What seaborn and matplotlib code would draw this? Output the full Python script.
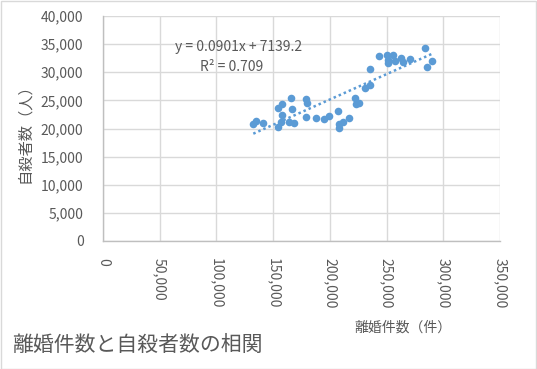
import matplotlib
matplotlib.use("Agg")
import matplotlib.pyplot as plt
from matplotlib.patches import Rectangle
import seaborn as sns
import pandas as pd
import numpy as np

# Data
divorces = [132500, 134900, 141400, 154000, 158000, 158000, 154600, 156700,
            165800, 167000, 164300, 168700, 179000, 179600, 179000, 187800,
            194900, 199600, 207000, 208100, 208400, 211900, 217200, 222200,
            222800, 226000, 231000, 235400, 235400, 243700, 250200, 251600,
            251600, 255400, 257500, 262500, 264800, 270700, 284200, 286000,
            290400]
suicides = [20760, 21400, 21000, 23600, 24300, 22400, 20340, 21230,
            25400, 23430, 21120, 20940, 25270, 24500, 22010, 21830,
            21650, 22300, 23130, 20820, 20050, 21230, 21830, 25400,
            24380, 24500, 27170, 27700, 30550, 32920, 33100, 31620,
            32210, 33100, 32080, 32620, 31850, 32330, 34290, 30900,
            32080]
slope = 0.0901
intercept = 7139.2
r2_label = "R² = 0.709"
eq_label = "y = 0.0901x + 7139.2"
x_ticks = [0, 50000, 100000, 150000, 200000, 250000, 300000, 350000]
y_ticks = [0, 5000, 10000, 15000, 20000, 25000, 30000, 35000, 40000]

df = pd.DataFrame({"divorces": divorces, "suicides": suicides})

sns.set_style("white")
plt.rcParams['font.family'] = ['Noto Sans CJK JP', 'DejaVu Sans']

BLUE = "#5B9BD5"
TXT = "#595959"

fig = plt.figure(figsize=(5.37, 3.69), dpi=100)
ax = fig.add_axes([103 / 537, 1 - 241 / 369, 397 / 537, 225 / 369])

sns.scatterplot(data=df, x="divorces", y="suicides", ax=ax, color=BLUE,
                s=30, edgecolor=BLUE, linewidth=0, zorder=3)

xs = np.array([min(divorces), max(divorces)])
ax.plot(xs, slope * xs + intercept, linestyle=(0, (1, 1.2)), color=BLUE,
        linewidth=1.8, zorder=2)

ax.set_xlim(0, 350000)
ax.set_ylim(0, 40000)
ax.set_xticks(x_ticks)
ax.set_xticklabels([f"{v:,}" for v in x_ticks])
ax.set_yticks(y_ticks)
ax.set_yticklabels([f"{v:,}" for v in y_ticks])
ax.grid(True, color="#D9D9D9", linewidth=1)
ax.set_axisbelow(True)
for s in ["top", "right"]:
    ax.spines[s].set_visible(False)
for s in ["left", "bottom"]:
    ax.spines[s].set_color("#BFBFBF")
    ax.spines[s].set_linewidth(1)
ax.tick_params(axis="both", length=0, labelsize=10, labelcolor=TXT)
ax.tick_params(axis="x", pad=12)
ax.tick_params(axis="y", pad=14)
# rotate after tick_params so the alignment sticks
for lab in ax.get_xticklabels():
    lab.set_rotation(-90)
    lab.set_rotation_mode("default")
    lab.set_ha("center")
    lab.set_va("top")
ax.set_xlabel("")
ax.set_ylabel("")

ax.text(63500, 34500, eq_label, fontsize=10, color=TXT, va="center", ha="left")
ax.text(85500, 31000, r2_label, fontsize=10, color=TXT, va="center", ha="left")

fig.text(25 / 537, 1 - 130 / 369, "自殺者数（人）", rotation=90, fontsize=11,
         color=TXT, ha="center", va="center")
fig.text(403 / 537, 1 - 328 / 369, "離婚件数（件）", fontsize=10,
         color=TXT, ha="center", va="center")
fig.text(12 / 537, 1 - 345 / 369, "離婚件数と自殺者数の相関", fontsize=15,
         color=TXT, ha="left", va="center")

fig.add_artist(Rectangle((0.001, 0.001), 0.997, 0.997, transform=fig.transFigure,
                         fill=False, edgecolor="#D9D9D9", linewidth=1))

fig.savefig("out.png", dpi=100)
plt.close(fig)
